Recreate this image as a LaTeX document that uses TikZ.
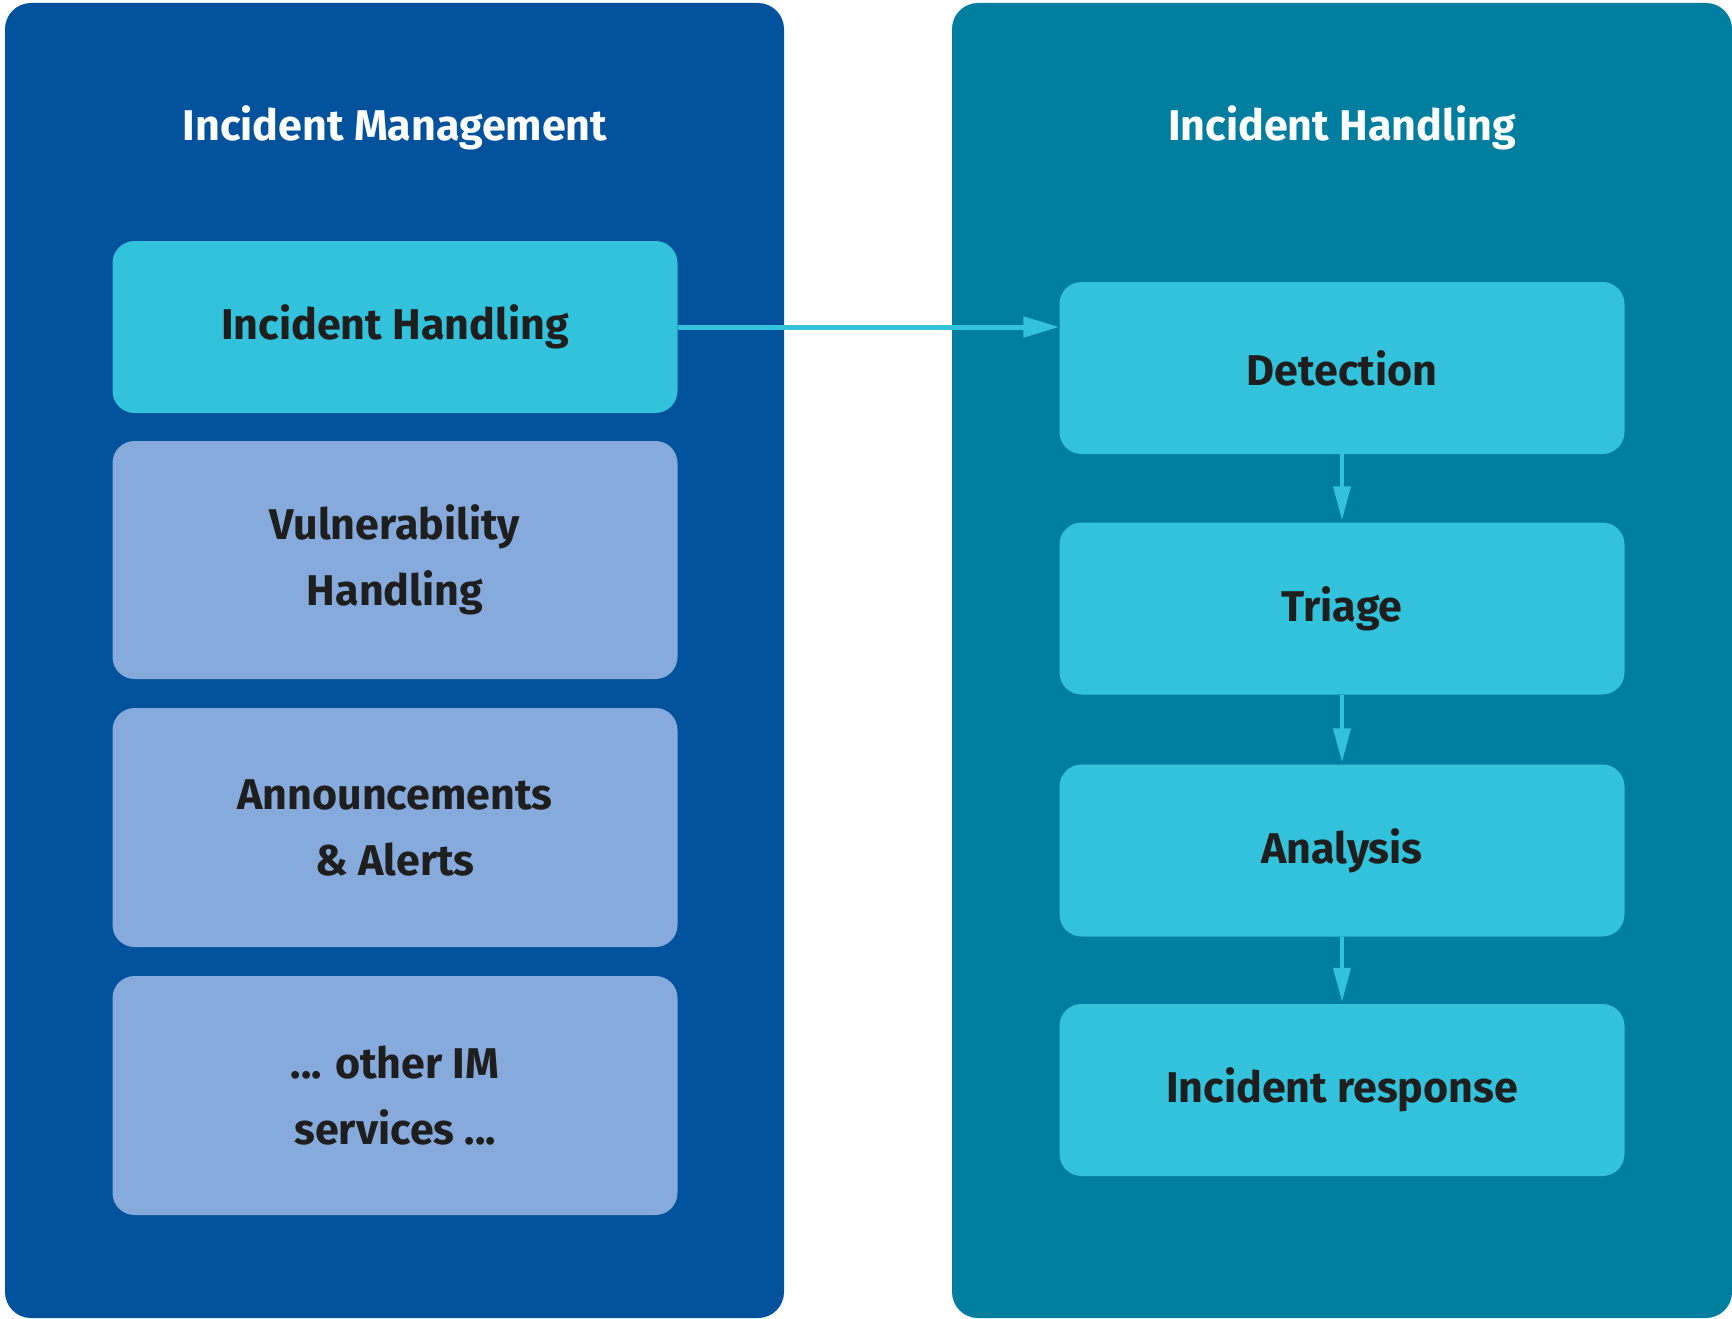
\documentclass[tikz,border=0pt]{standalone}
\usepackage{fontspec}
\setmainfont{Fira Sans}
\usetikzlibrary{arrows.meta}
\definecolor{imblue}{RGB}{0,82,156}
\definecolor{ihteal}{RGB}{0,126,160}
\definecolor{cyanbox}{RGB}{51,194,219}
\definecolor{lightbox}{RGB}{133,170,219}
\definecolor{darktext}{RGB}{30,30,30}
\begin{document}
\begin{tikzpicture}[x=1pt,y=-1pt,
  panel/.style={rounded corners=26pt},
  box/.style={rounded corners=22pt, minimum width=565pt, minimum height=172pt, inner sep=0pt,
    text=darktext, font=\fontsize{43}{66}\selectfont\bfseries, align=center},
  cbox/.style={box, fill=cyanbox},
  lbox/.style={box, fill=lightbox},
  title/.style={text=white, font=\fontsize{43}{50}\selectfont\bfseries},
  conn/.style={draw=cyanbox, line width=5pt, -{Triangle[length=36pt,width=20pt]}},
  vconn/.style={draw=cyanbox, line width=4pt, -{Triangle[length=34pt,width=17pt]}, shorten >=2pt}
]
\useasboundingbox (0,0) rectangle (1732,1319);
\fill[imblue, panel] (5,3) rectangle (784,1318);
\fill[ihteal, panel] (952,3) rectangle (1732,1318);
\node[title] (tim) at (395,128) {Incident Management};
\node[title] (tih) at (1342,128) {Incident Handling};
\node[cbox] (ih) at (395,327) {Incident Handling};
\node[lbox, minimum height=238pt] (vh) at (395,560) {Vulnerability\\Handling};
\node[lbox, minimum height=239pt] (aa) at (395,827.5) {Announcements\\\& Alerts};
\node[lbox, minimum height=239pt] (ot) at (395,1095.5) {... other IM\\services ...};
\node[cbox] (det) at (1342,368) {Detection};
\node[cbox] (tri) at (1342,608.5) {Triage};
\node[cbox] (ana) at (1342,850.5) {Analysis};
\node[cbox] (ir) at (1342,1090) {Incident response};
\draw[conn] (ih.east) -- (det.west |- ih.east);
\draw[vconn] (det) -- (tri);
\draw[vconn] (tri) -- (ana);
\draw[vconn] (ana) -- (ir);
\end{tikzpicture}
\end{document}
